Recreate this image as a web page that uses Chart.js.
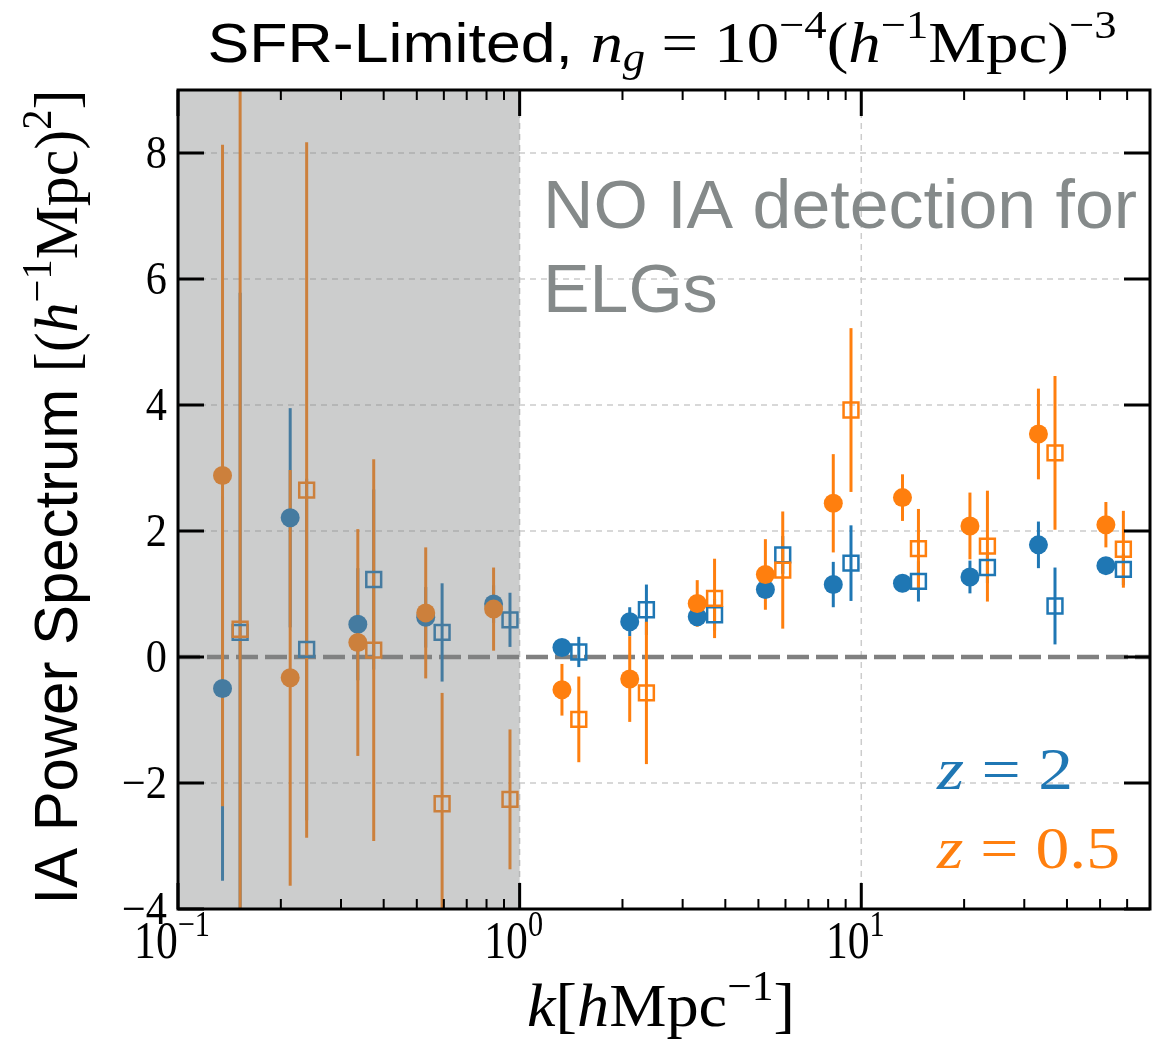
<!DOCTYPE html>
<html>
<head>
<meta charset="utf-8">
<script src="https://cdn.jsdelivr.net/npm/chart.js@4.4.1/dist/chart.umd.min.js"></script>
<style>
  html, body { margin: 0; padding: 0; background: #fff; }
  #wrap { width: 1173px; height: 1044px; }
</style>
</head>
<body>
<div id="wrap"><canvas id="c" width="1173" height="1044"></canvas></div>
<script>
// ---- data ----
// k bins (circles and squares are slightly offset in k)
const kCircle = [0.135, 0.213, 0.336, 0.531, 0.839, 1.33, 2.10, 3.31, 5.24, 8.28, 13.2, 20.8, 33.0, 52.0];
const kSquare = [0.152, 0.238, 0.374, 0.593, 0.937, 1.49, 2.35, 3.72, 5.89, 9.33, 14.7, 23.4, 36.9, 58.5];

// z = 2 (blue)
const z2CircleVal = [-0.50, 2.21, 0.52, 0.63, 0.84, 0.15, 0.56, 0.64, 1.07, 1.15, 1.17, 1.27, 1.78, 1.45];
const z2CircleErr = [3.05, 1.74, 0.89, 0.48, 0.30, 0.10, 0.23, 0.12, 0.15, 0.36, 0.14, 0.26, 0.37, 0.12];
const z2SquareVal = [0.39, 0.12, 1.23, 0.39, 0.59, 0.08, 0.75, 0.67, 1.62, 1.49, 1.20, 1.42, 0.81, 1.39];
const z2SquareErr = [5.39, 2.71, 1.43, 0.78, 0.43, 0.24, 0.40, 0.25, 0.30, 0.60, 0.32, 0.25, 0.61, 0.25];

// z = 0.5 (orange)
const z05CircleVal = [2.88, -0.33, 0.23, 0.70, 0.76, -0.52, -0.35, 0.85, 1.31, 2.44, 2.53, 2.08, 3.54, 2.10];
const z05CircleErr = [5.25, 3.30, 1.80, 1.04, 0.66, 0.41, 0.68, 0.37, 0.56, 0.78, 0.37, 0.53, 0.72, 0.36];
const z05SquareVal = [0.44, 2.65, 0.11, -2.33, -2.26, -0.99, -0.57, 0.93, 1.38, 3.92, 1.72, 1.76, 3.24, 1.71];
const z05SquareErr = [9.5, 5.52, 3.03, 1.76, 1.11, 0.68, 1.13, 0.63, 0.93, 1.30, 0.63, 0.88, 1.22, 0.61];

// axes
const yTicks = [-4, -2, 0, 2, 4, 6, 8];
const xMajorTicks = [0.1, 1, 10];
const xTickExp = ['\u22121', '0', '1'];
const shadedRange = [0.1, 1.0];

const BLUE = '#1f77b4';
const ORANGE = '#ff7f0e';
const SANS = '"Liberation Sans", Arial, sans-serif';
const SERIF = '"Liberation Serif", "DejaVu Serif", serif';

function pts(xs, ys, es) {
  return xs.map((x, i) => ({ x: x, y: ys[i], e: es[i] }));
}

// --- rich text helpers (mixed fonts, super/subscripts, horizontal squeeze) ---
function fontOf(g) {
  return (g.i ? 'italic ' : '') + g.size + 'px ' + (g.sans ? SANS : SERIF);
}
function richWidth(ctx, segs) {
  let w = 0;
  segs.forEach(g => { ctx.font = fontOf(g); w += ctx.measureText(g.t).width; });
  return w;
}
// opts: align, color, sq (squeeze) or width (squeeze to this width)
function drawRich(ctx, segs, x, y, opts) {
  const nat = richWidth(ctx, segs);
  const sq = opts.width ? opts.width / nat : (opts.sq || 1);
  const w = nat * sq;
  let cx = opts.align === 'center' ? x - w / 2 : (opts.align === 'right' ? x - w : x);
  ctx.fillStyle = opts.color || '#000';
  ctx.textAlign = 'left';
  ctx.textBaseline = 'alphabetic';
  segs.forEach(g => {
    ctx.font = fontOf(g);
    ctx.save();
    ctx.translate(cx, y + (g.dy || 0));
    ctx.scale(sq, 1);
    ctx.fillText(g.t, 0, 0);
    ctx.restore();
    cx += ctx.measureText(g.t).width * sq;
  });
  return sq;
}

// grid + zero line + error bars, under the markers
const underPlugin = {
  id: 'under',
  beforeDatasetsDraw(chart) {
    const ctx = chart.ctx, a = chart.chartArea;
    const xs = chart.scales.x, ys = chart.scales.y;
    ctx.save();
    ctx.beginPath();
    ctx.rect(a.left, a.top, a.right - a.left, a.bottom - a.top);
    ctx.clip();

    // dashed grid
    ctx.strokeStyle = '#cccccc';
    ctx.lineWidth = 1.5;
    ctx.setLineDash([6, 5]);
    yTicks.forEach(v => {
      if (v === 0 || v === -4) return;
      const py = ys.getPixelForValue(v);
      ctx.beginPath(); ctx.moveTo(a.left, py); ctx.lineTo(a.right, py); ctx.stroke();
    });
    xMajorTicks.forEach(v => {
      const px = xs.getPixelForValue(v);
      if (px <= a.left + 1) return;
      ctx.beginPath(); ctx.moveTo(px, a.top); ctx.lineTo(px, a.bottom); ctx.stroke();
    });

    // zero line
    ctx.strokeStyle = '#808080';
    ctx.lineWidth = 4.5;
    ctx.setLineDash([22, 7]);
    const p0 = ys.getPixelForValue(0);
    ctx.beginPath(); ctx.moveTo(a.left, p0); ctx.lineTo(a.right, p0); ctx.stroke();
    ctx.setLineDash([]);

    // error bars, in plotting order (orange last, on top)
    ctx.lineWidth = 3;
    chart.data.datasets.forEach(ds => {
      ctx.strokeStyle = ds.borderColor;
      ds.data.forEach(p => {
        const px = xs.getPixelForValue(p.x);
        ctx.beginPath();
        ctx.moveTo(px, ys.getPixelForValue(p.y + p.e));
        ctx.lineTo(px, ys.getPixelForValue(p.y - p.e));
        ctx.stroke();
      });
    });
    ctx.restore();
  }
};

// shaded region, frame, ticks and all texts
const overPlugin = {
  id: 'over',
  afterDatasetsDraw(chart) {
    const ctx = chart.ctx, a = chart.chartArea;
    const xs = chart.scales.x, ys = chart.scales.y;
    ctx.save();

    // grey band for k < 1
    const g0 = xs.getPixelForValue(shadedRange[0]);
    const g1 = xs.getPixelForValue(shadedRange[1]);
    ctx.fillStyle = 'rgba(128,130,130,0.4)';
    ctx.fillRect(g0, a.top, g1 - g0, a.bottom - a.top);

    // frame
    ctx.strokeStyle = '#000';
    ctx.lineWidth = 3;
    ctx.strokeRect(a.left, a.top, a.right - a.left, a.bottom - a.top);

    // y ticks (both sides, inward)
    ctx.lineWidth = 3;
    yTicks.forEach(v => {
      const py = ys.getPixelForValue(v);
      ctx.beginPath();
      ctx.moveTo(a.left, py); ctx.lineTo(a.left + 26, py);
      ctx.moveTo(a.right, py); ctx.lineTo(a.right - 26, py);
      ctx.stroke();
    });
    // x major ticks (top and bottom, inward)
    xMajorTicks.forEach(v => {
      const px = xs.getPixelForValue(v);
      ctx.beginPath();
      ctx.moveTo(px, a.bottom); ctx.lineTo(px, a.bottom - 26);
      ctx.moveTo(px, a.top); ctx.lineTo(px, a.top + 26);
      ctx.stroke();
    });
    // x minor ticks
    ctx.lineWidth = 2;
    xMajorTicks.forEach(dec => {
      for (let m = 2; m <= 9; m++) {
        const v = dec * m;
        if (v >= xs.max) break;
        const px = xs.getPixelForValue(v);
        ctx.beginPath();
        ctx.moveTo(px, a.bottom); ctx.lineTo(px, a.bottom - 10);
        ctx.moveTo(px, a.top); ctx.lineTo(px, a.top + 10);
        ctx.stroke();
      }
    });

    // y tick labels
    yTicks.forEach(v => {
      const txt = v < 0 ? '\u2212' + Math.abs(v) : String(v);
      drawRich(ctx, [{ t: txt, size: 46 }], a.left - 11, ys.getPixelForValue(v) + 15,
        { align: 'right', sq: 0.92 });
    });
    // x tick labels 10^n
    xMajorTicks.forEach((v, i) => {
      drawRich(ctx, [
        { t: '10', size: 52 },
        { t: xTickExp[i], size: 36, dy: -22 }
      ], xs.getPixelForValue(v) - 6, 958, { align: 'center', sq: 0.84 });
    });

    // title
    drawRich(ctx, [
      { t: 'SFR-Limited, ', size: 56, sans: true },
      { t: 'n', size: 58, i: true },
      { t: 'g', size: 40, i: true, dy: 9 },
      { t: ' = 10', size: 58 },
      { t: '\u22124', size: 40, dy: -24 },
      { t: '(', size: 58 },
      { t: 'h', size: 58, i: true },
      { t: '\u22121', size: 40, dy: -24 },
      { t: 'Mpc)', size: 58 },
      { t: '\u22123', size: 40, dy: -24 }
    ], 662, 62, { width: 909, align: 'center' });

    // x label
    drawRich(ctx, [
      { t: 'k', size: 62, i: true },
      { t: '[', size: 62 },
      { t: 'h', size: 62, i: true },
      { t: 'Mpc', size: 62 },
      { t: '\u22121', size: 42, dy: -26 },
      { t: ']', size: 62 }
    ], 661, 1026, { width: 268, align: 'center' });

    // y label (rotated)
    ctx.save();
    ctx.translate(77, 497);
    ctx.rotate(-Math.PI / 2);
    drawRich(ctx, [
      { t: 'IA Power Spectrum ', size: 62, sans: true },
      { t: '[(', size: 62 },
      { t: 'h', size: 62, i: true },
      { t: '\u22121', size: 42, dy: -26 },
      { t: 'Mpc)', size: 62 },
      { t: '2', size: 42, dy: -26 },
      { t: ']', size: 62 }
    ], 0, 0, { width: 815, align: 'center' });
    ctx.restore();

    // annotation
    const sq = drawRich(ctx, [{ t: 'NO IA detection for', size: 68, sans: true }],
      543, 228, { width: 594, color: '#858a8a' });
    drawRich(ctx, [{ t: 'ELGs', size: 68, sans: true }], 543, 312, { sq: sq, color: '#858a8a' });

    // redshift labels
    drawRich(ctx, [{ t: 'z', size: 60, i: true }, { t: ' = 2', size: 60 }],
      937, 789, { width: 136, color: BLUE });
    drawRich(ctx, [{ t: 'z', size: 60, i: true }, { t: ' = 0.5', size: 60 }],
      937, 868, { width: 183, color: ORANGE });

    ctx.restore();
  }
};

new Chart(document.getElementById('c'), {
  type: 'scatter',
  data: {
    datasets: [
      { label: 'z=2 circles', data: pts(kCircle, z2CircleVal, z2CircleErr), order: 4,
        pointStyle: 'circle', pointRadius: 9.5, borderWidth: 0,
        backgroundColor: BLUE, borderColor: BLUE },
      { label: 'z=2 squares', data: pts(kSquare, z2SquareVal, z2SquareErr), order: 3,
        pointStyle: 'rect', pointRadius: 10.5, borderWidth: 2.5,
        backgroundColor: 'rgba(0,0,0,0)', borderColor: BLUE },
      { label: 'z=0.5 circles', data: pts(kCircle, z05CircleVal, z05CircleErr), order: 2,
        pointStyle: 'circle', pointRadius: 9.5, borderWidth: 0,
        backgroundColor: ORANGE, borderColor: ORANGE },
      { label: 'z=0.5 squares', data: pts(kSquare, z05SquareVal, z05SquareErr), order: 1,
        pointStyle: 'rect', pointRadius: 10.5, borderWidth: 2.5,
        backgroundColor: 'rgba(0,0,0,0)', borderColor: ORANGE }
    ]
  },
  options: {
    responsive: false,
    animation: false,
    events: [],
    layout: { padding: { left: 178, right: 23, top: 90, bottom: 135 } },
    scales: {
      x: { type: 'logarithmic', min: 0.1, max: 70, display: false },
      y: { type: 'linear', min: -4, max: 9, display: false }
    },
    plugins: { legend: { display: false }, tooltip: { enabled: false } }
  },
  plugins: [underPlugin, overPlugin]
});
</script>
</body>
</html>
